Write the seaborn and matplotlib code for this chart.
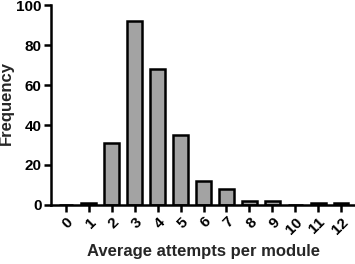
import pandas as pd
import matplotlib
matplotlib.use("Agg")
import matplotlib.pyplot as plt
import seaborn as sns

# Data
attempts = ['0', '1', '2', '3', '4', '5', '6', '7', '8', '9', '10', '11', '12']
frequency = [0, 1, 31, 92, 68, 35, 12, 8, 2, 2, 0, 1, 1]

df = pd.DataFrame({'attempts': attempts, 'frequency': frequency})

sns.set_style('ticks')
plt.rcParams['font.family'] = ['Liberation Sans', 'DejaVu Sans']
plt.rcParams['font.weight'] = 'bold'

fig = plt.figure(figsize=(3.55, 2.64), dpi=100)
ax = fig.add_axes([0.144, 0.2235, 0.856, 0.7575])

sns.barplot(data=df, x='attempts', y='frequency', order=attempts,
            color='#A3A3A3', edgecolor='black', linewidth=1.8,
            width=0.65, saturation=1, ax=ax)

ax.set_xlim(-0.65, 12.61)
ax.set_ylim(0, 100)
ax.set_yticks([0, 20, 40, 60, 80, 100])
ax.set_xlabel('Average attempts per module', fontsize=12, fontweight='bold')
ax.set_ylabel('Frequency', fontsize=12, fontweight='bold')
ax.xaxis.set_label_coords(0.503, -0.195)
ax.yaxis.set_label_coords(-0.122, 0.51)

for lbl in ax.get_xticklabels():
    lbl.set_rotation(45)
    lbl.set_ha('right')
    lbl.set_rotation_mode('anchor')
    lbl.set_fontweight('bold')
for lbl in ax.get_yticklabels():
    lbl.set_fontweight('bold')

ax.tick_params(axis='both', labelsize=11, width=1.8, length=5, pad=2,
               color='black', labelcolor='black')
for side in ['left', 'bottom']:
    ax.spines[side].set_linewidth(1.8)
    ax.spines[side].set_color('black')
sns.despine(ax=ax)

fig.savefig('out.png', dpi=100)
